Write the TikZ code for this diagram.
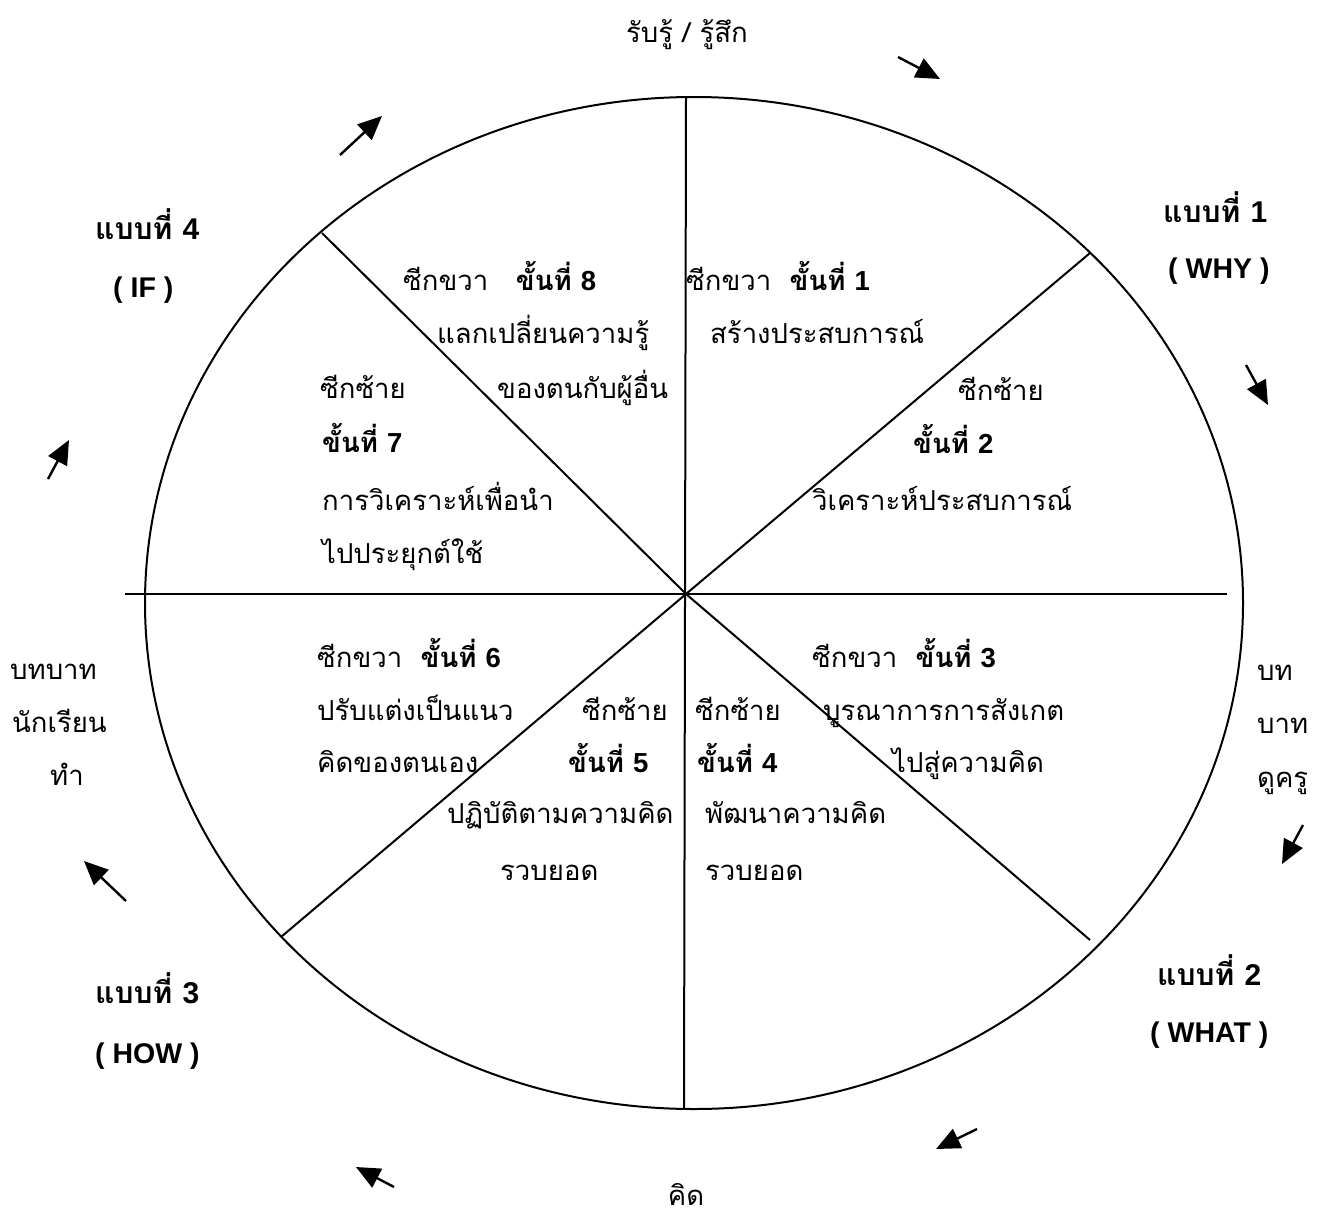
\documentclass[tikz,border=0pt]{standalone}
\usepackage{fontspec}
\usetikzlibrary{arrows.meta}
\newfontfamily\thai[Script=Thai]{Loma}
\newfontfamily\arialf{Liberation Sans}
\newcommand\stn[1]{\textbf{ขั้นที่}\ {\arialf\bfseries #1}}
\begin{document}
\begin{tikzpicture}[x=1pt,y=-1pt,
  txt/.style={font=\thai\fontsize{27.5}{30}\selectfont, inner sep=0pt, anchor=base west},
  ctxt/.style={font=\thai\fontsize{27.5}{30}\selectfont, inner sep=0pt, anchor=base},
  kind/.style={font=\thai\bfseries\fontsize{30}{32}\selectfont, inner sep=0pt, anchor=base west},
  eng/.style={font=\arialf\bfseries\fontsize{28.5}{30}\selectfont, inner sep=0pt, anchor=base west},
  wheel/.style={line width=2pt},
  flow/.style={line width=2.4pt, -{Triangle[length=24pt,width=21pt]}}]
\fill[white] (0,0) rectangle (1331,1218);
\path[use as bounding box] (0,0) rectangle (1331,1218);
% wheel
\draw[wheel] (694,603) ellipse [x radius=549, y radius=506];
\coordinate (hub) at (686,594);
\coordinate (pN) at (686,97);
\coordinate (pS) at (684,1109);
\coordinate (pNE) at (1090,253);
\coordinate (pNW) at (322,233);
\coordinate (pSW) at (281,937);
\coordinate (pSE) at (1090,940);
\coordinate (pW) at (125,594);
\coordinate (pE) at (1227,594);
\draw[wheel] (pN) -- (pS);
\draw[wheel] (pW) -- (pE);
\draw[wheel] (hub) -- (pNE);
\draw[wheel] (hub) -- (pNW);
\draw[wheel] (hub) -- (pSW);
\draw[wheel] (hub) -- (pSE);
% arrows
\coordinate (a1s) at (898,57);   \coordinate (a1e) at (940,79);
\coordinate (a2s) at (1246,365); \coordinate (a2e) at (1268,405);
\coordinate (a3s) at (1303,825); \coordinate (a3e) at (1282,864);
\coordinate (a4s) at (977,1129); \coordinate (a4e) at (936,1149);
\coordinate (a5s) at (394,1187); \coordinate (a5e) at (356,1167);
\coordinate (a6s) at (126,901);  \coordinate (a6e) at (84,861);
\coordinate (a7s) at (48,479);   \coordinate (a7e) at (69,440);
\coordinate (a8s) at (340,155);  \coordinate (a8e) at (382,116);
\foreach \i in {1,...,8} {\draw[flow] (a\i s) -- (a\i e);}
% outer labels
\node[ctxt] (top) at (687,42) {รับรู้ / รู้สึก};
\node[ctxt] (bot) at (686,1205) {คิด};
\node[kind] (k1) at (1163,222) {แบบที่ {\arialf 1}};
\node[eng] (e1) at (1168,278) {( WHY )};
\node[kind] (k4) at (95,239) {แบบที่ {\arialf 4}};
\node[eng] (e4) at (113,297) {( IF )};
\node[kind] (k3) at (95,1003) {แบบที่ {\arialf 3}};
\node[eng] (e3) at (95,1063) {( HOW )};
\node[kind] (k2) at (1157,985) {แบบที่ {\arialf 2}};
\node[eng] (e2) at (1150,1042) {( WHAT )};
\node[txt] (l1) at (10,679) {บทบาท};
\node[txt] (l2) at (12,732) {นักเรียน};
\node[txt] (l3) at (50,785) {ทำ};
\node[txt] (r1) at (1257,680) {บท};
\node[txt] (r2) at (1257,733) {บาท};
\node[txt] (r3) at (1257,787) {ดูครู};
% sector 1
\node[txt] (s1a) at (686,290) {ซีกขวา\ \ \stn{1}};
\node[txt] (s1b) at (710,343) {สร้างประสบการณ์};
% sector 2
\node[txt] (s2a) at (958,400) {ซีกซ้าย};
\node[txt] (s2b) at (913,453) {\stn{2}};
\node[txt] (s2c) at (812,510) {วิเคราะห์ประสบการณ์};
% sector 3
\node[txt] (s3a) at (812,667) {ซีกขวา\ \ \stn{3}};
\node[txt] (s3b) at (823,720) {บูรณาการการสังเกต};
\node[txt] (s3c) at (892,772) {ไปสู่ความคิด};
% sector 4
\node[txt] (s4a) at (695,720) {ซีกซ้าย};
\node[txt] (s4b) at (697,772) {\stn{4}};
\node[txt] (s4c) at (705,823) {พัฒนาความคิด};
\node[txt] (s4d) at (705,880) {รวบยอด};
% sector 5
\node[txt] (s5a) at (582,720) {ซีกซ้าย};
\node[txt] (s5b) at (568,772) {\stn{5}};
\node[txt] (s5c) at (447,823) {ปฏิบัติตามความคิด};
\node[txt] (s5d) at (500,880) {รวบยอด};
% sector 6
\node[txt] (s6a) at (317,667) {ซีกขวา\ \ \stn{6}};
\node[txt] (s6b) at (317,720) {ปรับแต่งเป็นแนว};
\node[txt] (s6c) at (317,772) {คิดของตนเอง};
% sector 7
\node[txt] (s7a) at (320,398) {ซีกซ้าย};
\node[txt] (s7b) at (322,452) {\stn{7}};
\node[txt] (s7c) at (322,510) {การวิเคราะห์เพื่อนำ};
\node[txt] (s7d) at (322,563) {ไปประยุกต์ใช้};
% sector 8
\node[txt] (s8a) at (403,290) {ซีกขวา\ \ \ \stn{8}};
\node[txt] (s8b) at (437,343) {แลกเปลี่ยนความรู้};
\node[txt] (s8c) at (497,398) {ของตนกับผู้อื่น};
\end{tikzpicture}
\end{document}
